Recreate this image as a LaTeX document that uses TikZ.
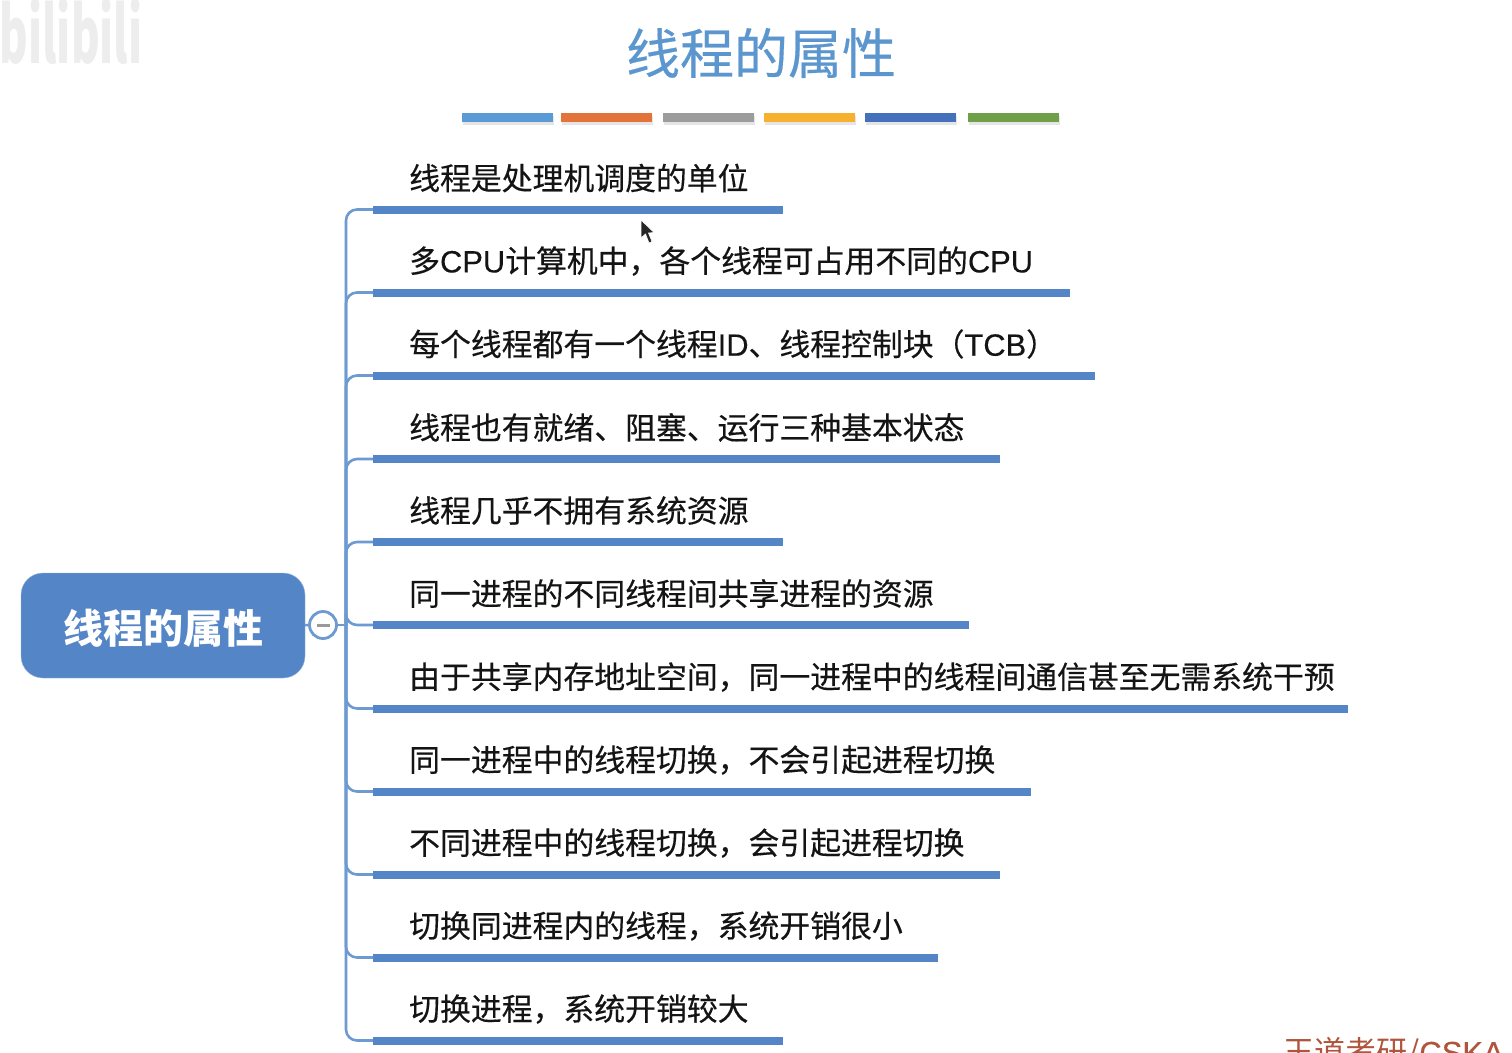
\documentclass[tikz,border=0pt]{standalone}
\usepackage{fontspec}
\setmainfont{Noto Sans CJK SC}
\newfontfamily\itemfont[FakeBold=0.35]{Noto Sans CJK SC}
\newfontfamily\latinfont[FakeBold=0.2]{Liberation Sans}
\newcommand{\lat}[1]{{\latinfont #1}}
\definecolor{mapblue}{HTML}{5485C6}
\definecolor{linkblue}{HTML}{6E9AD2}
\definecolor{titleblue}{HTML}{5B96CE}
\definecolor{markred}{HTML}{B0553C}
\tikzset{
  itemtext/.style={anchor=west,inner sep=0pt,text=black!92,font=\fontsize{30.85}{36}\selectfont\itemfont},
  itembar/.style={line width=8pt,mapblue},
  itemlink/.style={line width=2.6pt,linkblue,rounded corners=11pt},
  rootbox/.style={fill=mapblue,draw=linkblue!70,rounded corners=22pt,minimum width=284pt,minimum height=105pt,inner sep=0pt,text=white,text height=40pt,text depth=4.6pt,font=\fontsize{40}{46}\selectfont\bfseries},
  togglenode/.style={circle,draw=linkblue,fill=white,line width=2.8pt,minimum size=27pt,inner sep=0pt},
  rulebar/.style={line width=9pt}
}
\begin{document}
\begin{tikzpicture}[x=1pt,y=-1pt]
\useasboundingbox[clip](0,0)rectangle(1512,1052);
\fill[white](0,0)rectangle(1512,1052);
\node[inner sep=0pt,text=black!7,xscale=.95,yscale=1.7,font=\fontsize{46}{50}\selectfont\bfseries](logo)at(71,32){bilibili};
\node[inner sep=0pt,text=titleblue,font=\fontsize{54}{60}\selectfont\itemfont](title)at(761,53){线程的属性};
% colour strip under the title
\foreach\c/\a/\b/\n in{5B9BD5/462/553/1,E2733A/561/652/2,9C9C9C/663/754/3,F6B12F/764/855/4,4470BC/865/956/5,6F9F48/968/1059/6}{
  \definecolor{stripc}{HTML}{\c}
  \draw[rulebar,black!10](\a+1,120.5)--(\b+1,120.5);
  \draw[rulebar,stripc](\a,117.5)coordinate(s\n)--(\b,117.5);
}
\node[rootbox](root)at(163,625.5){线程的属性};
\node[togglenode](toggle)at(323,625){};
\node[inner sep=0pt,minimum width=13pt,minimum height=3pt,fill=black!40](minus)at(toggle){};
\coordinate(hub)at(346,625);
\draw[itemlink,rounded corners=0pt](root)--(toggle);
\draw[itemlink,rounded corners=0pt](toggle)--(hub);
\foreach\n/\y/\e/\t in{
  1/209.5/783/线程是处理机调度的单位,
  2/292.5/1070/多\lat{CPU}计算机中，各个线程可占用不同的\lat{CPU},
  3/375.5/1095/每个线程都有一个线程\lat{ID}、线程控制块（\lat{TCB}）,
  4/459/1000/线程也有就绪、阻塞、运行三种基本状态,
  5/542/783/线程几乎不拥有系统资源,
  6/625/969/同一进程的不同线程间共享进程的资源,
  7/708.5/1348/由于共享内存地址空间，同一进程中的线程间通信甚至无需系统干预,
  8/791.5/1031/同一进程中的线程切换，不会引起进程切换,
  9/874.5/1000/不同进程中的线程切换，会引起进程切换,
  10/957.5/938/切换同进程内的线程，系统开销很小,
  11/1040.5/783/切换进程，系统开销较大}{
  \coordinate(a\n)at(373,\y);\coordinate(z\n)at(\e,\y);
  \draw[itemlink](hub)|-(a\n);
  \draw[itembar](a\n)--(z\n);
  \node[itemtext](t\n)at(409,\y-31.5){\t};
}
% pointer
\fill[black!85,draw=white,line width=.6pt](641,220)--(641,238)--(645.5,234)--(649,243)--(652,241.5)--(648.5,233)--(654,232.5)--cycle;
\node[anchor=north west,inner sep=0pt,text=markred,font=\fontsize{31}{36}\selectfont](mark)at(1283,1037){王道考研/\lat{CSKA}};
\end{tikzpicture}
\end{document}
